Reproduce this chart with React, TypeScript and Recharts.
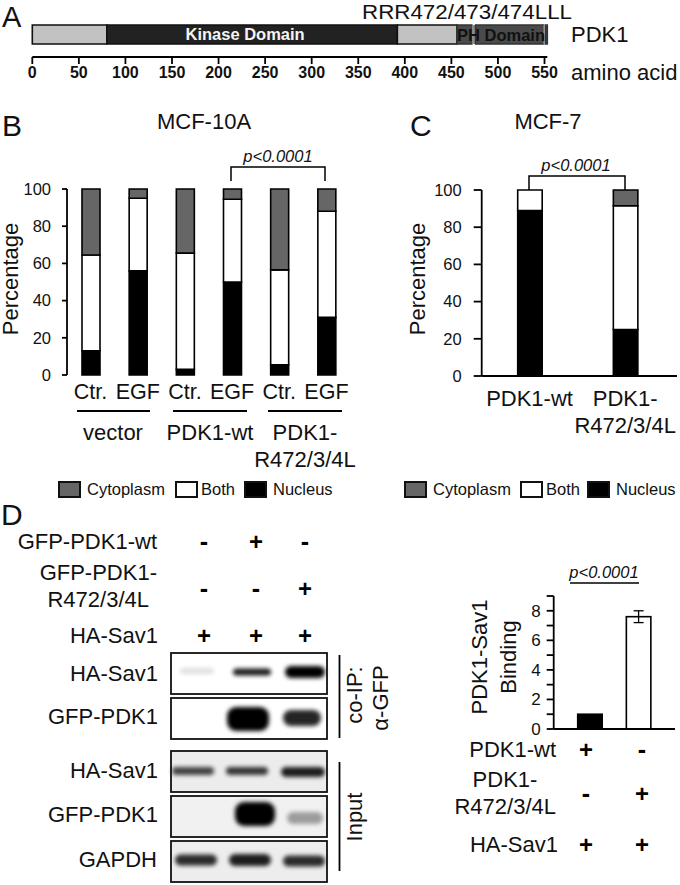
import React from "react";
import { Bar, BarChart, ErrorBar, LabelList, XAxis, YAxis } from "recharts";

const FONT = '"Liberation Sans", Arial, sans-serif';
const INK = "#111";

// panel A
const domainRow = [{ name: "PDK1", head: 80, kinase: 312, linker: 64, ph1: 16, mark1: 4, ph2: 73, mark2: 2, ph3: 2 }];
const aminoTicks = [0, 50, 100, 150, 200, 250, 300, 350, 400, 450, 500, 550];

// panel B
const conditionsB = ["Ctr.", "EGF", "Ctr.", "EGF", "Ctr.", "EGF"];
const nucleusB = [13, 56, 3, 50, 5.5, 31];
const bothB = [51.5, 39, 62.5, 44.5, 51, 57];
const cytoplasmB = [35.5, 5, 34.5, 5.5, 43.5, 12];
const boundaryTicks = [0, 1, 2, 3, 4, 5, 6];

// panel C
const constructsC = ["PDK1-wt", "PDK1-|R472/3/4L"];
const nucleusC = [89, 25];
const bothC = [11, 66.5];
const cytoplasmC = [0, 8.5];

const percentTicks = [0, 20, 40, 60, 80, 100];

// panel D, binding
const bindingNames = ["PDK1-wt", "PDK1-R472/3/4L"];
const bindingValues = [1, 7.6];
const bindingErrors = [0, 0.4];
const bindingColors = ["#000", "#fff"];
const bindingTicks = [0, 1, 2, 3, 4, 5, 6, 7, 8, 9];

// panel D, blot band strength per lane
const coipHaSav1 = [0.12, 0.9, 1];
const coipGfp = [0, 1, 0.85];
const inputHaSav1 = [0.72, 0.78, 0.88];
const inputGfp = [0, 1, 0.35];
const inputGapdh = [0.82, 0.88, 0.82];

const dataB = conditionsB.map((condition, i) => ({
  condition,
  nucleus: nucleusB[i],
  both: bothB[i],
  cytoplasm: cytoplasmB[i],
}));
const dataC = constructsC.map((construct, i) => ({
  construct,
  nucleus: nucleusC[i],
  both: bothC[i],
  cytoplasm: cytoplasmC[i],
}));
const dataBinding = bindingNames.map((name, i) => ({
  name,
  value: bindingValues[i],
  err: bindingErrors[i],
  color: bindingColors[i],
}));

const blots = [
  { levels: coipHaSav1, y: 653, bg: "#fff", bands: [[197, 671, 17, 3], [252, 672, 19, 3.5], [305, 672, 20, 6]] },
  { levels: coipGfp, y: 698, bg: "#fff", bands: [[248, 719, 21, 12], [248, 719, 21, 12], [302, 718, 19, 8]] },
  { levels: inputHaSav1, y: 751, bg: "#ececec", bands: [[193, 771, 21, 4], [247, 771, 21, 4], [303, 772, 22, 5]] },
  { levels: inputGfp, y: 796, bg: "#f1f1f1", bands: [[255, 814, 20, 12], [255, 814, 20, 12], [305, 818, 18, 6]] },
  { levels: inputGapdh, y: 841, bg: "#ededed", bands: [[196, 860, 21, 5.5], [250, 860, 21, 6], [304, 861, 21, 5.5]] },
];

function Label({ x, y, children, size = 22, anchor = "start", weight = "normal", italic = false, fill = INK, rotate = false, stretchTo }: any) {
  return (
    <text
      x={x}
      y={y}
      fontSize={size}
      fontFamily={FONT}
      textAnchor={anchor}
      fontWeight={weight}
      fontStyle={italic ? "italic" : "normal"}
      fill={fill}
      textLength={stretchTo}
      lengthAdjust={stretchTo ? "spacingAndGlyphs" : undefined}
      transform={rotate ? `rotate(-90 ${x} ${y})` : undefined}
    >
      {children}
    </text>
  );
}

function Sign({ x, y, on }: { x: number; y: number; on: boolean }) {
  return (
    <text x={x} y={y} fontSize={on ? 24 : 25} fontWeight="bold" fontFamily={FONT} fill="#000" textAnchor="middle" dominantBaseline="central">
      {on ? "+" : "-"}
    </text>
  );
}

function Seg({ d, w = 1.5 }: { d: string; w?: number }) {
  return <path d={d} fill="none" stroke="#000" strokeWidth={w} />;
}

function LegendRow({ x, y, at }: { x: number; y: number; at: number[] }) {
  const items: [string, string][] = [["Cytoplasm", "#666"], ["Both", "#fff"], ["Nucleus", "#000"]];
  const textOffsets = [28, 25, 28];
  return (
    <g>
      {items.map(([name, fill], i) => (
        <g key={name}>
          <rect x={x + at[i]} y={y} width={21} height={15} fill={fill} stroke="#111" strokeWidth={2} />
          <Label x={x + at[i] + textOffsets[i]} y={y + 13} size={16.5}>{name}</Label>
        </g>
      ))}
    </g>
  );
}

function ConstructTick({ x, y, payload }: any) {
  const lines = String(payload.value).split("|");
  return (
    <g>
      {lines.map((line, i) => (
        <text key={line} x={x} y={y + 22 + i * 27} textAnchor="middle" fontSize={22} fontFamily={FONT} fill={INK}>
          {line}
        </text>
      ))}
    </g>
  );
}

function Blots() {
  return (
    <g>
      <defs>
        <filter id="soft" x="-30%" y="-60%" width="160%" height="220%">
          <feGaussianBlur stdDeviation="2" />
        </filter>
      </defs>
      {blots.map((blot) => (
        <g key={blot.y}>
          <rect x={171} y={blot.y} width={156} height={41} fill={blot.bg} />
          {blot.bands.map(([cx, cy, rx, ry], i) =>
            blot.levels[i] > 0 ? (
              <rect
                key={i}
                x={cx - rx}
                y={cy - ry}
                width={rx * 2}
                height={ry * 2}
                rx={Math.min(ry, 9)}
                fill="#000"
                opacity={blot.levels[i]}
                filter="url(#soft)"
              />
            ) : null
          )}
          <rect x={171} y={blot.y} width={156} height={41} fill="none" stroke="#111" strokeWidth={1.8} />
        </g>
      ))}
    </g>
  );
}

function Annotations() {
  const blotCols = [204, 256, 305];
  const bindCols = [586, 642];
  return (
    <svg width={680} height={885} style={{ position: "absolute", left: 0, top: 0, pointerEvents: "none" }}>
      {/* panel letters */}
      <Label x={2} y={27} size={29}>A</Label>
      <Label x={2} y={136} size={30}>B</Label>
      <Label x={410} y={136} size={30}>C</Label>
      <Label x={1} y={525} size={30}>D</Label>

      {/* A */}
      <Label x={362} y={19} size={20} stretchTo={210}>RRR472/473/474LLL</Label>
      <Label x={501} y={41} size={16.5} anchor="middle" weight="bold">PH Domain</Label>
      <Label x={571} y={42}>PDK1</Label>
      <Label x={571} y={80}>amino acid</Label>

      {/* B */}
      <Label x={204} y={129} anchor="middle">MCF-10A</Label>
      <Label x={278} y={162} size={16.5} anchor="middle" italic>p&lt;0.0001</Label>
      <Seg d="M231 181V167H325V181" />
      <Label x={18} y={279} anchor="middle" rotate>Percentage</Label>
      <Seg d="M77 411H150M173 411H247M268 411H342" w={2} />
      <Label x={113} y={440} anchor="middle">vector</Label>
      <Label x={210} y={440} anchor="middle">PDK1-wt</Label>
      <Label x={305} y={440} anchor="middle">PDK1-</Label>
      <Label x={305} y={467} anchor="middle">R472/3/4L</Label>
      <LegendRow x={59} y={482} at={[0, 117, 186]} />

      {/* C */}
      <Label x={548} y={129} anchor="middle">MCF-7</Label>
      <Label x={576} y={171} size={16.5} anchor="middle" italic>p&lt;0.0001</Label>
      <Seg d="M529 190V176H625V190" />
      <Label x={425} y={279} anchor="middle" rotate>Percentage</Label>
      <LegendRow x={405} y={482} at={[0, 116, 183]} />

      {/* D blot */}
      <Label x={157} y={549} anchor="end">GFP-PDK1-wt</Label>
      <Label x={157} y={580} anchor="end">GFP-PDK1-</Label>
      <Label x={149} y={607} anchor="end">R472/3/4L</Label>
      <Label x={158} y={643} anchor="end">HA-Sav1</Label>
      <Label x={158} y={681} anchor="end">HA-Sav1</Label>
      <Label x={158} y={724} anchor="end">GFP-PDK1</Label>
      <Label x={158} y={778} anchor="end">HA-Sav1</Label>
      <Label x={158} y={822} anchor="end">GFP-PDK1</Label>
      <Label x={157} y={867} anchor="end">GAPDH</Label>
      {[false, true, false].map((on, i) => <Sign key={i} x={blotCols[i]} y={541} on={on} />)}
      {[false, false, true].map((on, i) => <Sign key={i} x={blotCols[i]} y={588} on={on} />)}
      {[true, true, true].map((on, i) => <Sign key={i} x={blotCols[i]} y={635} on={on} />)}
      <Blots />
      <Seg d="M339.5 655V738M339.5 762V871" w={1.8} />
      <Label x={362} y={695} anchor="middle" rotate>co-IP:</Label>
      <Label x={388} y={698} anchor="middle" rotate>α-GFP</Label>
      <Label x={362} y={817} anchor="middle" rotate>Input</Label>

      {/* D binding */}
      <Label x={604} y={578} size={16.5} anchor="middle" italic>p&lt;0.0001</Label>
      <Seg d="M570 583H639" />
      <Label x={487} y={657} anchor="middle" rotate>PDK1-Sav1</Label>
      <Label x={516} y={657} anchor="middle" rotate>Binding</Label>
      <Label x={556} y={757} anchor="end">PDK1-wt</Label>
      <Label x={505} y={787} anchor="middle">PDK1-</Label>
      <Label x={556} y={814} anchor="end">R472/3/4L</Label>
      <Label x={558} y={852} anchor="end">HA-Sav1</Label>
      {[true, false].map((on, i) => <Sign key={i} x={bindCols[i]} y={749} on={on} />)}
      {[false, true].map((on, i) => <Sign key={i} x={bindCols[i]} y={793} on={on} />)}
      {[true, true].map((on, i) => <Sign key={i} x={bindCols[i]} y={844} on={on} />)}
    </svg>
  );
}

const tickFont = { fill: INK, fontSize: 16.5, fontFamily: FONT };
const axisStroke = { stroke: "#000", strokeWidth: 1.8 };

function DomainChart() {
  const seg = (key: string, fill: string, stroke: string) => (
    <Bar dataKey={key} stackId="d" fill={fill} stroke={stroke} strokeWidth={stroke === "none" ? 0 : 1.6} isAnimationActive={false}>
      {key === "kinase" ? (
        <LabelList
          position="center"
          formatter={() => "Kinase Domain"}
          dx={-7}
          style={{ fill: "#f4f4f4", fontSize: 16.5, fontWeight: "bold", fontFamily: FONT }}
        />
      ) : null}
    </Bar>
  );
  return (
    <div style={{ position: "absolute", left: 0, top: 0 }}>
      <BarChart
        layout="vertical"
        width={680}
        height={87}
        data={domainRow}
        barSize={19}
        margin={{ top: 12, right: 132.7, bottom: 0, left: 32.3 }}
      >
        <XAxis
          type="number"
          domain={[0, 553]}
          ticks={aminoTicks}
          height={30}
          tickSize={7}
          tickMargin={3}
          axisLine={axisStroke}
          tickLine={axisStroke}
          interval={0}
          tick={{ fill: INK, fontSize: 16, fontWeight: "bold", fontFamily: FONT }}
        />
        <YAxis type="category" dataKey="name" hide />
        {seg("head", "#c2c2c2", "#111")}
        {seg("kinase", "#222", "#111")}
        {seg("linker", "#c2c2c2", "#111")}
        {seg("ph1", "#4a4a4a", "#333")}
        {seg("mark1", "#8a8a8a", "none")}
        {seg("ph2", "#4a4a4a", "#333")}
        {seg("mark2", "#c8c8c8", "none")}
        {seg("ph3", "#4a4a4a", "#333")}
      </BarChart>
    </div>
  );
}

function LocalisationB() {
  return (
    <div style={{ position: "absolute", left: 0, top: 150 }}>
      <BarChart width={370} height={270} data={dataB} barSize={18} margin={{ top: 39, right: 20, bottom: 0, left: 0 }}>
        <XAxis
          xAxisId="bounds"
          type="number"
          domain={[0, 6]}
          ticks={boundaryTicks}
          height={0}
          tick={false}
          tickSize={6}
          axisLine={axisStroke}
          tickLine={axisStroke}
        />
        <XAxis
          xAxisId="labels"
          dataKey="condition"
          height={45}
          axisLine={false}
          tickLine={false}
          tickMargin={3}
          interval={0}
          tick={{ fill: INK, fontSize: 21.5, fontFamily: FONT }}
        />
        <YAxis
          width={67}
          domain={[0, 100]}
          ticks={percentTicks}
          tickSize={5}
          tickMargin={11}
          axisLine={axisStroke}
          tickLine={axisStroke}
          tick={tickFont}
        />
        <Bar xAxisId="labels" dataKey="nucleus" stackId="s" fill="#000" stroke="#000" strokeWidth={1.6} isAnimationActive={false} />
        <Bar xAxisId="labels" dataKey="both" stackId="s" fill="#fff" stroke="#000" strokeWidth={1.6} isAnimationActive={false} />
        <Bar xAxisId="labels" dataKey="cytoplasm" stackId="s" fill="#666" stroke="#000" strokeWidth={1.6} isAnimationActive={false} />
      </BarChart>
    </div>
  );
}

function LocalisationC() {
  return (
    <div style={{ position: "absolute", left: 400, top: 150 }}>
      <BarChart width={280} height={306} data={dataC} barSize={24.5} margin={{ top: 40, right: 3, bottom: 0, left: 0 }}>
        <XAxis
          dataKey="construct"
          height={80}
          padding={{ left: 0, right: 4 }}
          tickLine={false}
          axisLine={axisStroke}
          interval={0}
          tick={<ConstructTick />}
        />
        <YAxis
          width={81.7}
          domain={[0, 100]}
          ticks={percentTicks}
          tickSize={8}
          tickMargin={12}
          axisLine={axisStroke}
          tickLine={axisStroke}
          tick={tickFont}
        />
        <Bar dataKey="nucleus" stackId="s" fill="#000" stroke="#000" strokeWidth={1.6} isAnimationActive={false} />
        <Bar dataKey="both" stackId="s" fill="#fff" stroke="#000" strokeWidth={1.6} isAnimationActive={false} />
        <Bar dataKey="cytoplasm" stackId="s" fill="#666" stroke="#000" strokeWidth={1.6} isAnimationActive={false} />
      </BarChart>
    </div>
  );
}

function BindingChart() {
  return (
    <div style={{ position: "absolute", left: 430, top: 570 }}>
      <BarChart width={250} height={174} data={dataBinding} barSize={24.5} margin={{ top: 26, right: 5, bottom: 0, left: 0 }}>
        <XAxis dataKey="name" height={15} padding={{ left: 12, right: 12 }} tick={false} tickLine={false} axisLine={axisStroke} />
        <YAxis
          width={123.7}
          domain={[0, 9]}
          ticks={bindingTicks}
          interval={0}
          tickSize={7}
          tickMargin={6}
          axisLine={axisStroke}
          tickLine={axisStroke}
          tick={{ ...tickFont, fontSize: 17 }}
          tickFormatter={(v: number) => (v % 2 === 0 ? String(v) : "")}
        />
        <Bar
          dataKey="value"
          stroke="#000"
          strokeWidth={1.6}
          isAnimationActive={false}
          shape={(p: any) => <rect x={p.x} y={p.y} width={p.width} height={p.height} fill={p.payload.color} stroke="#000" strokeWidth={1.6} />}
        >
          <ErrorBar dataKey="err" width={5} stroke="#000" strokeWidth={1.3} isAnimationActive={false} />
        </Bar>
      </BarChart>
    </div>
  );
}

export default function App() {
  return (
    <div style={{ position: "absolute", left: 0, top: 0, width: 680, height: 885, background: "#fff", overflow: "hidden" }}>
      <DomainChart />
      <LocalisationB />
      <LocalisationC />
      <BindingChart />
      <Annotations />
    </div>
  );
}
